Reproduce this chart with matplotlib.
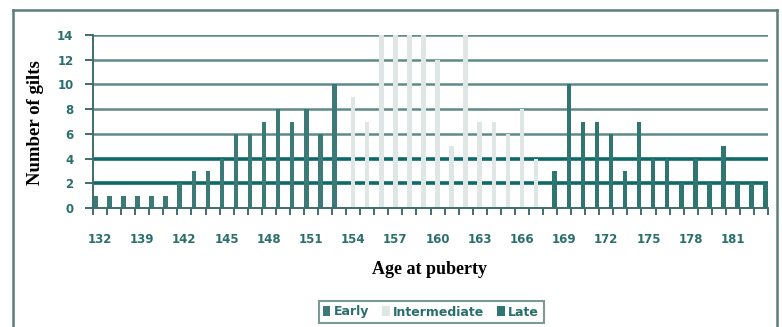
import numpy as np
import matplotlib.pyplot as plt
from matplotlib.lines import Line2D
from matplotlib.patches import Patch

# ── data ──────────────────────────────────────────────
tick_labels = ['132', '139', '142', '145', '148', '151', '154', '157',
               '160', '163', '166', '169', '172', '175', '178', '181']
early = [1, 1, 1, 1, 1, 1, 2, 3, 3, 4, 6, 6, 7, 8, 7, 8, 6, 10]
intermediate = [9, 7, 14, 14, 14, 14, 12, 5, 14, 7, 7, 6, 8, 4]
late = [3, 10, 7, 7, 6, 3, 7, 4, 4, 2, 4, 2, 5, 2, 2, 2]
y_ticks = [0, 2, 4, 6, 8, 10, 12, 14]

# ── colours ───────────────────────────────────────────
EARLY_C = '#3b7a77'
INTER_C = '#dfe6e6'
LATE_C = '#2f7571'
GRID_C = '#5f8a89'
GRID_BOLD = '#0d6a68'
TEXT_C = '#2a6f6c'
FRAME_C = '#5b7e7d'
AXIS_C = '#3d6e6d'
SANS = ['Liberation Sans Narrow', 'DejaVu Sans']
SERIF = ['Liberation Serif', 'DejaVu Serif']

n_cat = len(early) + len(intermediate) + len(late)
x = np.arange(n_cat)
e_full = np.array(early + [0] * (n_cat - len(early)))
i_full = np.array([0] * len(early) + intermediate + [0] * len(late))
l_full = np.array([0] * (n_cat - len(late)) + late)

fig = plt.figure(figsize=(7.82, 3.27), dpi=100)
ax = fig.add_axes([93 / 782, 1 - 208 / 327, (768 - 93) / 782, (208 - 35) / 327])

# gridlines (2 and 4 drawn heavier, as in the source)
for v in y_ticks[1:]:
    bold = v in (2, 4)
    ax.axhline(v, color=GRID_BOLD if bold else GRID_C,
               lw=2.6 if bold else 1.8, zorder=1)

w = 0.32
ax.bar(x - 1 / 3, e_full, width=w, color=EARLY_C, zorder=2)
ax.bar(x, i_full, width=w, color=INTER_C, zorder=2)
ax.bar(x + 1 / 3, l_full, width=w, color=LATE_C, zorder=2)

ax.set_xlim(-0.5, n_cat - 0.5)
ax.set_ylim(0, 14)

# axes styling
for s in ('top', 'right'):
    ax.spines[s].set_visible(False)
for s in ('left', 'bottom'):
    ax.spines[s].set_color(AXIS_C)
    ax.spines[s].set_linewidth(1.4)

ax.set_yticks(y_ticks)
ax.set_yticklabels([str(v) for v in y_ticks])
ax.tick_params(axis='y', direction='out', length=6, width=1.4, color=AXIS_C,
               pad=8, labelcolor=TEXT_C)
ax.set_xticks(np.arange(n_cat + 1) - 0.5, minor=True)
ax.set_xticks(np.arange(0, n_cat, 3))
ax.set_xticklabels(tick_labels)
ax.tick_params(axis='x', which='minor', direction='out', length=5, width=1.4,
               color=AXIS_C)
ax.tick_params(axis='x', which='major', length=0, pad=18, labelcolor=TEXT_C)

for t in ax.get_xticklabels() + ax.get_yticklabels():
    t.set_fontfamily(SANS)
    t.set_fontweight('bold')
    t.set_fontsize(8.5)

fig.text(36 / 782, 1 - 123 / 327, 'Number of gilts', rotation=90,
         ha='center', va='center', fontsize=13.5, fontweight='bold', family=SERIF)
fig.text(430 / 782, 1 - 270 / 327, 'Age at puberty',
         ha='center', va='center', fontsize=13, fontweight='bold', family=SERIF)

# legend
handles = [Patch(facecolor=EARLY_C), Patch(facecolor=INTER_C), Patch(facecolor=LATE_C)]
leg = fig.legend(handles, ['Early', 'Intermediate', 'Late'], ncol=3,
                 loc='center', bbox_to_anchor=(431 / 782, 1 - 312 / 327),
                 frameon=True, fancybox=False, handlelength=0.6, handleheight=0.8,
                 handletextpad=0.3, columnspacing=1.0, borderpad=0.35,
                 prop=dict(family=SANS, weight='bold', size=9))
leg.get_frame().set_edgecolor(FRAME_C)
leg.get_frame().set_linewidth(1.5)
for t in leg.get_texts():
    t.set_color(TEXT_C)

# outer frame
fx0, fx1, fy = 13 / 782, 777 / 782, 1 - 10 / 327
for xs, ys in (([fx0, fx0], [0, fy]), ([fx0, fx1], [fy, fy]), ([fx1, fx1], [fy, 0])):
    fig.add_artist(Line2D(xs, ys, color=FRAME_C, lw=1.8, transform=fig.transFigure))

plt.savefig('out.png', dpi=100, facecolor='white')
plt.close()
